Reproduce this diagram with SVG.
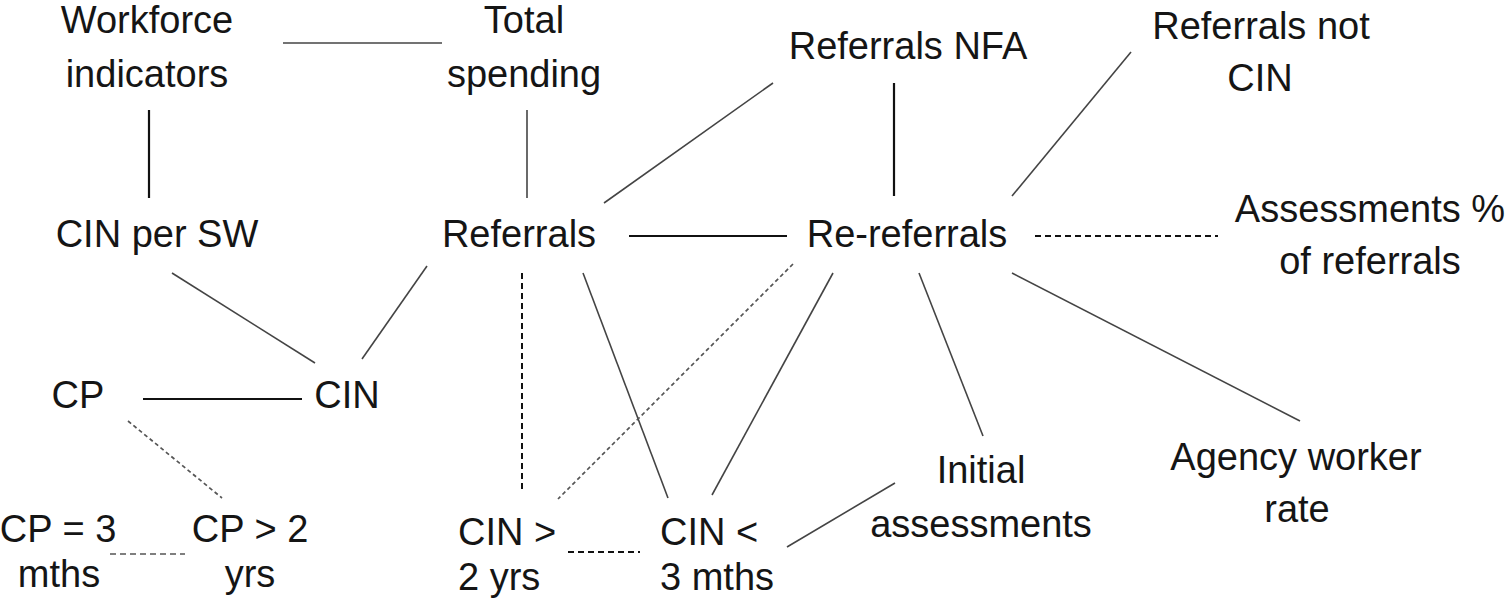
<svg xmlns="http://www.w3.org/2000/svg" width="1505" height="606" viewBox="0 0 1505 606">
<style>
text{font-family:"Liberation Sans",Arial,sans-serif;font-size:38px;fill:#151515;text-anchor:middle}
text.l{text-anchor:start}
.s{stroke:#111;stroke-width:2.2;fill:none}
.g{stroke:#444;stroke-width:1.6;fill:none}
.d{stroke:#111;stroke-width:2;stroke-dasharray:6 4;fill:none}
.dg{stroke:#555;stroke-width:1.6;stroke-dasharray:6 4;fill:none}
.o{stroke:#555;stroke-width:1.7;stroke-dasharray:4 3;fill:none}
</style>
<rect width="1505" height="606" fill="#fff"/>
<g id="connectors">
<line class="g" x1="283" y1="43" x2="442" y2="43"/>
<line class="s" x1="149" y1="110" x2="149" y2="198"/>
<line class="g" x1="527" y1="110" x2="527" y2="198"/>
<line class="g" x1="773" y1="83" x2="604" y2="203"/>
<line class="s" x1="894" y1="83" x2="894" y2="196"/>
<line class="g" x1="1131" y1="52" x2="1012" y2="196"/>
<line class="s" x1="629" y1="236" x2="787" y2="236"/>
<line class="d" x1="1035" y1="236" x2="1218" y2="236"/>
<line class="g" x1="172" y1="273" x2="315" y2="363"/>
<line class="g" x1="427" y1="266" x2="362" y2="359"/>
<line class="s" x1="143" y1="399" x2="302" y2="399"/>
<line class="o" x1="128" y1="421" x2="222" y2="498"/>
<line class="dg" x1="110" y1="554" x2="185" y2="554"/>
<line class="d" x1="522" y1="273" x2="522" y2="489"/>
<line class="g" x1="583" y1="273" x2="668" y2="498"/>
<line class="o" x1="793" y1="264" x2="558" y2="499"/>
<line class="g" x1="833" y1="273" x2="712" y2="495"/>
<line class="d" x1="568" y1="552" x2="640" y2="552"/>
<line class="g" x1="919" y1="273" x2="983" y2="436"/>
<line class="g" x1="895" y1="483" x2="787" y2="547"/>
<line class="g" x1="1012" y1="273" x2="1300" y2="421"/>
</g>
<g id="workforce"><text x="147" y="33">Workforce</text><text x="147" y="87">indicators</text></g>
<g id="total-spending"><text x="524" y="33">Total</text><text x="524" y="87">spending</text></g>
<g id="referrals-nfa"><text x="908" y="59">Referrals NFA</text></g>
<g id="referrals-not-cin"><text x="1261" y="39">Referrals not</text><text x="1260" y="91">CIN</text></g>
<g id="cin-per-sw"><text x="157" y="247">CIN per SW</text></g>
<g id="referrals"><text x="519" y="247">Referrals</text></g>
<g id="re-referrals"><text x="907" y="247">Re-referrals</text></g>
<g id="assessments-pct"><text x="1370" y="222">Assessments %</text><text x="1370" y="274">of referrals</text></g>
<g id="cp"><text x="78" y="408">CP</text></g>
<g id="cin"><text x="347" y="408">CIN</text></g>
<g id="cp-3mths"><text x="58" y="542">CP = 3</text><text x="59" y="587">mths</text></g>
<g id="cp-2yrs"><text x="250" y="542">CP &gt; 2</text><text x="250" y="587">yrs</text></g>
<g id="cin-2yrs"><text class="l" x="458" y="545">CIN &gt;</text><text class="l" x="458" y="590">2 yrs</text></g>
<g id="cin-3mths"><text class="l" x="660" y="545">CIN &lt;</text><text class="l" x="660" y="590">3 mths</text></g>
<g id="initial-assessments"><text x="981" y="483">Initial</text><text x="981" y="537">assessments</text></g>
<g id="agency-worker-rate"><text x="1296" y="470">Agency worker</text><text x="1297" y="522">rate</text></g>
</svg>
